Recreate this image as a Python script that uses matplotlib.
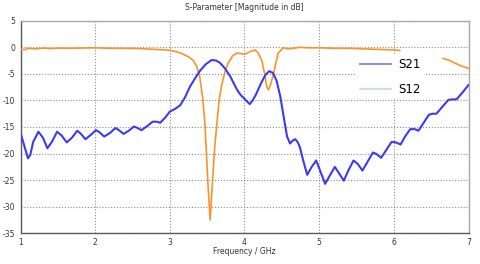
import numpy as np
import matplotlib
matplotlib.use("Agg")
import matplotlib.pyplot as plt
from matplotlib.lines import Line2D

plt.rcParams['font.family'] = ['Liberation Sans Narrow', 'DejaVu Sans']

# S21 (blue) curve: frequency (GHz), magnitude (dB)
s21_freq = [1.00, 1.05, 1.10, 1.13, 1.17, 1.24, 1.30, 1.36, 1.42, 1.49, 1.55, 1.62, 1.69, 1.76,
            1.81, 1.87, 1.94, 2.01, 2.06, 2.12, 2.20, 2.27, 2.32, 2.38, 2.45, 2.52, 2.57, 2.62,
            2.70, 2.77, 2.82, 2.87, 2.94, 3.00, 3.07, 3.14, 3.20, 3.27, 3.34, 3.40, 3.48, 3.56,
            3.62, 3.67, 3.74, 3.81, 3.86, 3.90, 3.95, 4.00, 4.07, 4.11, 4.16, 4.22, 4.28, 4.33,
            4.38, 4.43, 4.48, 4.53, 4.57, 4.61, 4.65, 4.68, 4.71, 4.74, 4.79, 4.84, 4.90, 4.96,
            5.02, 5.08, 5.14, 5.21, 5.27, 5.33, 5.39, 5.46, 5.52, 5.58, 5.65, 5.72, 5.77, 5.83,
            5.90, 5.97, 6.03, 6.09, 6.15, 6.22, 6.28, 6.33, 6.40, 6.47, 6.52, 6.57, 6.65, 6.73,
            6.78, 6.84, 6.92, 7.00]
s21_db = [-16.1, -18.5, -20.9, -20.3, -17.8, -15.9, -17.0, -19.0, -17.8, -15.9, -16.6, -17.9, -17.0, -15.7,
          -16.3, -17.3, -16.5, -15.6, -16.0, -16.8, -16.1, -15.2, -15.6, -16.3, -15.7, -14.9, -15.2, -15.6,
          -14.8, -14.0, -14.0, -14.2, -13.2, -12.1, -11.6, -10.9, -9.5, -7.4, -5.8, -4.5, -3.2, -2.4,
          -2.5, -2.9, -4.0, -5.5, -6.9, -8.0, -9.0, -9.7, -10.7, -10.0, -8.7, -6.8, -5.2, -4.5,
          -4.8, -6.3, -9.3, -13.5, -16.8, -18.1, -17.5, -17.3, -17.8, -18.7, -21.5, -24.0, -22.5, -21.3,
          -23.5, -25.7, -24.2, -22.5, -23.8, -25.1, -23.2, -21.3, -22.0, -23.2, -21.5, -19.8, -20.1, -20.8,
          -19.3, -17.8, -17.9, -18.3, -16.8, -15.4, -15.4, -15.7, -14.2, -12.7, -12.5, -12.5, -11.2, -9.9,
          -9.8, -9.8, -8.5, -7.1]

# S11 (orange) curve; NaN where hidden behind the legend
s11_freq = [1.00, 1.05, 1.10, 1.20, 1.30, 1.40, 1.50, 1.60, 1.80, 2.00, 2.20, 2.40, 2.60, 2.80,
            3.00, 3.10, 3.18, 3.25, 3.31, 3.36, 3.40, 3.44, 3.47, 3.51, 3.54, 3.57, 3.60, 3.63,
            3.66, 3.69, 3.74, 3.78, 3.84, 3.90, 3.96, 4.01, 4.08, 4.14, 4.18, 4.23, 4.27, 4.30,
            4.32, 4.35, 4.39, 4.45, 4.52, 4.58, 4.65, 4.74, 4.85, 5.00, 5.20, 5.40, 5.60, 5.80,
            6.00, 6.08, 6.30, 6.66, 6.75, 6.82, 6.90, 7.00]
s11_db = [-0.4, -0.45, -0.2, -0.3, -0.15, -0.25, -0.15, -0.2, -0.15, -0.1, -0.2, -0.2, -0.25, -0.4,
          -0.55, -0.9, -1.3, -1.8, -2.4, -3.6, -5.5, -9.5, -14.3, -25.6, -32.5, -25.6, -19.0, -14.3,
          -10.0, -7.4, -4.5, -3.0, -1.6, -1.1, -1.2, -1.3, -0.8, -0.5, -1.0, -2.4, -5.0, -7.5,
          -8.0, -7.0, -4.9, -1.1, -0.1, -0.3, -0.2, 0.0, -0.1, -0.1, -0.2, -0.2, -0.3, -0.4,
          -0.5, -0.6, np.nan, -2.1, -2.5, -3.0, -3.5, -3.95]

x_ticks = [1, 2, 3, 4, 5, 6, 7]
y_ticks = [5, 0, -5, -10, -15, -20, -25, -30, -35]
legend_labels = ["S21", "S12"]

fig = plt.figure(figsize=(4.8, 2.64), dpi=100)
fig.patch.set_facecolor('white')
ax = fig.add_axes([20.5 / 480, 1 - 233.3 / 264, 448 / 480, 212.6 / 264])

ax.plot(s11_freq, s11_db, color='#f7952c', lw=1.2, zorder=3)
ax.plot(s21_freq, s21_db, color='#3b3bf2', lw=1.5, zorder=4)

ax.set_xlim(1, 7)
ax.set_ylim(-35, 5)
ax.set_xticks(x_ticks)
ax.set_yticks(y_ticks)
ax.set_xticklabels([str(t) for t in x_ticks])
ax.set_yticklabels([str(t) for t in y_ticks])
ax.tick_params(length=0, labelsize=5.5, colors='#333333')
ax.tick_params(axis='x', pad=3.5)
ax.tick_params(axis='y', pad=4)
ax.grid(True, color='#8a8a8a', lw=0.8, linestyle=(0, (1, 1.6)), zorder=1)
ax.set_axisbelow(True)

for side in ['left', 'bottom']:
    ax.spines[side].set_color('#5a5a5a')
    ax.spines[side].set_linewidth(1.0)
for side in ['top', 'right']:
    ax.spines[side].set_color('#a8a8a8')
    ax.spines[side].set_linewidth(1.0)

fig.text(244.5 / 480, 1 - 8 / 264, "S-Parameter [Magnitude in dB]", ha='center', va='center',
         fontsize=5.5, color='#333333')
fig.text(244.5 / 480, 1 - 252 / 264, "Frequency / GHz", ha='center', va='center',
         fontsize=5.5, color='#333333')

handles = [Line2D([], [], color='#8d8df3', lw=1.4), Line2D([], [], color='#b8deb8', lw=1.1)]
leg = ax.legend(handles, legend_labels, loc='upper left', bbox_to_anchor=(0.749, 0.842),
                frameon=True, facecolor='white', edgecolor='none', framealpha=1, fancybox=False,
                fontsize=8.5, handlelength=2.7, handletextpad=0.6, labelspacing=1.0,
                borderaxespad=0, borderpad=0.3)
leg.set_zorder(5)

fig.savefig("out.png", dpi=100, facecolor='white')
